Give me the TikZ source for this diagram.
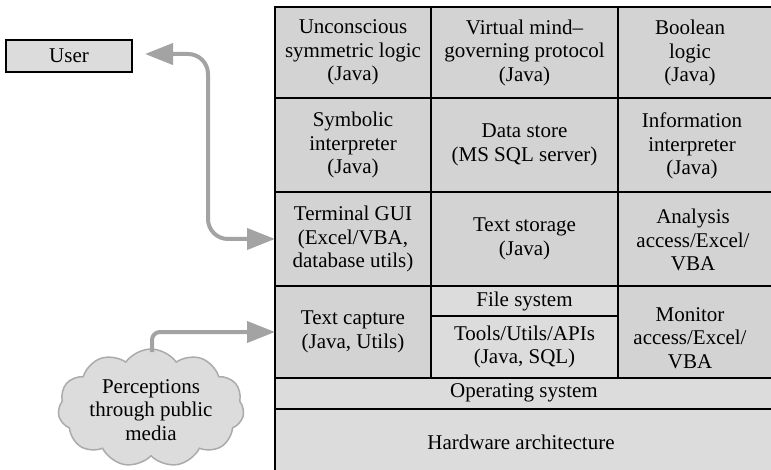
\documentclass[tikz,border=0pt]{standalone}
\usepackage{fontspec}
\setmainfont{Liberation Serif}
\usetikzlibrary{arrows.meta,shapes.symbols}
\definecolor{cellD}{HTML}{D3D3D3}
\definecolor{cellL}{HTML}{DCDCDD}
\definecolor{arrgray}{HTML}{A3A3A3}
\definecolor{cloudline}{HTML}{ABABAB}
\begin{document}
\begin{tikzpicture}[x=1pt,y=-1pt,
  font=\fontsize{21}{23.5}\selectfont,
  cell/.style={draw=black, line width=2.5pt, fill=cellD, inner sep=0pt, outer sep=0pt, align=center},
  lcell/.style={cell, fill=cellL},
  txt/.style={align=center, inner sep=0pt},
  garrow/.style={draw=arrgray, line width=4pt, {Triangle[length=28pt,width=21pt]}-{Triangle[length=28pt,width=21pt]}},
  garrowone/.style={draw=arrgray, line width=4pt, -{Triangle[length=28pt,width=21pt]}},
]
\useasboundingbox (0,0) rectangle (771,470);
\clip (0,0) rectangle (771,470);

% row 1
\node[cell, minimum width=156pt, minimum height=91pt] (c11) at (353,52.5) {Unconscious\\symmetric logic\\(Java)};
\node[cell, minimum width=187pt, minimum height=91pt] (c12) at (524.5,52.5) {Virtual mind--\\governing protocol\\(Java)};
\node[cell, minimum width=200pt, minimum height=91pt] (c13) at (718,52.5) {};
\node[txt] (t13) at (690,53) {Boolean\\logic\\(Java)};
% row 2
\node[cell, minimum width=156pt, minimum height=94pt] (c21) at (353,145) {Symbolic\\interpreter\\(Java)};
\node[cell, minimum width=187pt, minimum height=94pt] (c22) at (524.5,145) {Data store\\(MS SQL server)};
\node[cell, minimum width=200pt, minimum height=94pt] (c23) at (718,145) {};
\node[txt] (t23) at (692,146) {Information\\interpreter\\(Java)};
% row 3
\node[cell, minimum width=156pt, minimum height=94pt] (c31) at (353,239) {Terminal GUI\\(Excel/VBA,\\database utils)};
\node[cell, minimum width=187pt, minimum height=94pt] (c32) at (524.5,239) {Text storage\\(Java)};
\node[cell, minimum width=200pt, minimum height=94pt] (c33) at (718,239) {};
\node[txt] (t33) at (693,240) {Analysis\\access/Excel/\\VBA};
% row 4
\node[cell, minimum width=156pt, minimum height=92pt] (c41) at (353,332) {Text capture\\(Java, Utils)};
\node[lcell, minimum width=187pt, minimum height=30pt] (fs) at (524.5,301) {File system};
\node[lcell, minimum width=187pt, minimum height=62pt] (tools) at (524.5,347) {Tools/Utils/APIs\\(Java, SQL)};
\node[cell, minimum width=200pt, minimum height=92pt] (c43) at (718,332) {};
\node[txt] (t43) at (690,338) {Monitor\\access/Excel/\\VBA};
% bottom layers
\node[lcell, minimum width=600pt, minimum height=31pt] (os) at (575,393.5) {};
\node[txt] (tos) at (524,393) {Operating system};
\node[lcell, minimum width=600pt, minimum height=100pt] (hw) at (575,459) {};
\node[txt] (thw) at (521,442) {Hardware architecture};

% user box
\node[draw=black, line width=2pt, fill=cellL, minimum width=126pt, minimum height=32pt, inner sep=0pt] (user) at (69,56) {User};

% cloud
\node[cloud, draw=cloudline, line width=1.5pt, fill=cellL, cloud puffs=11, cloud puff arc=110, aspect=1.55, minimum width=186pt, minimum height=118pt, inner sep=0pt] (cloud) at (151,408) {};
\node[txt] (tcloud) at (151,410) {Perceptions\\through public\\media};

% connectors
\coordinate (uend) at (145,54);
\draw[garrow, rounded corners=20pt] (uend) -- (208,54) -- (208,239) -- (c31.west);
\coordinate (cup) at (152,352);
\draw[garrowone, rounded corners=8pt] (cup) -- (152,332) -- (c41.west);
\end{tikzpicture}
\end{document}
